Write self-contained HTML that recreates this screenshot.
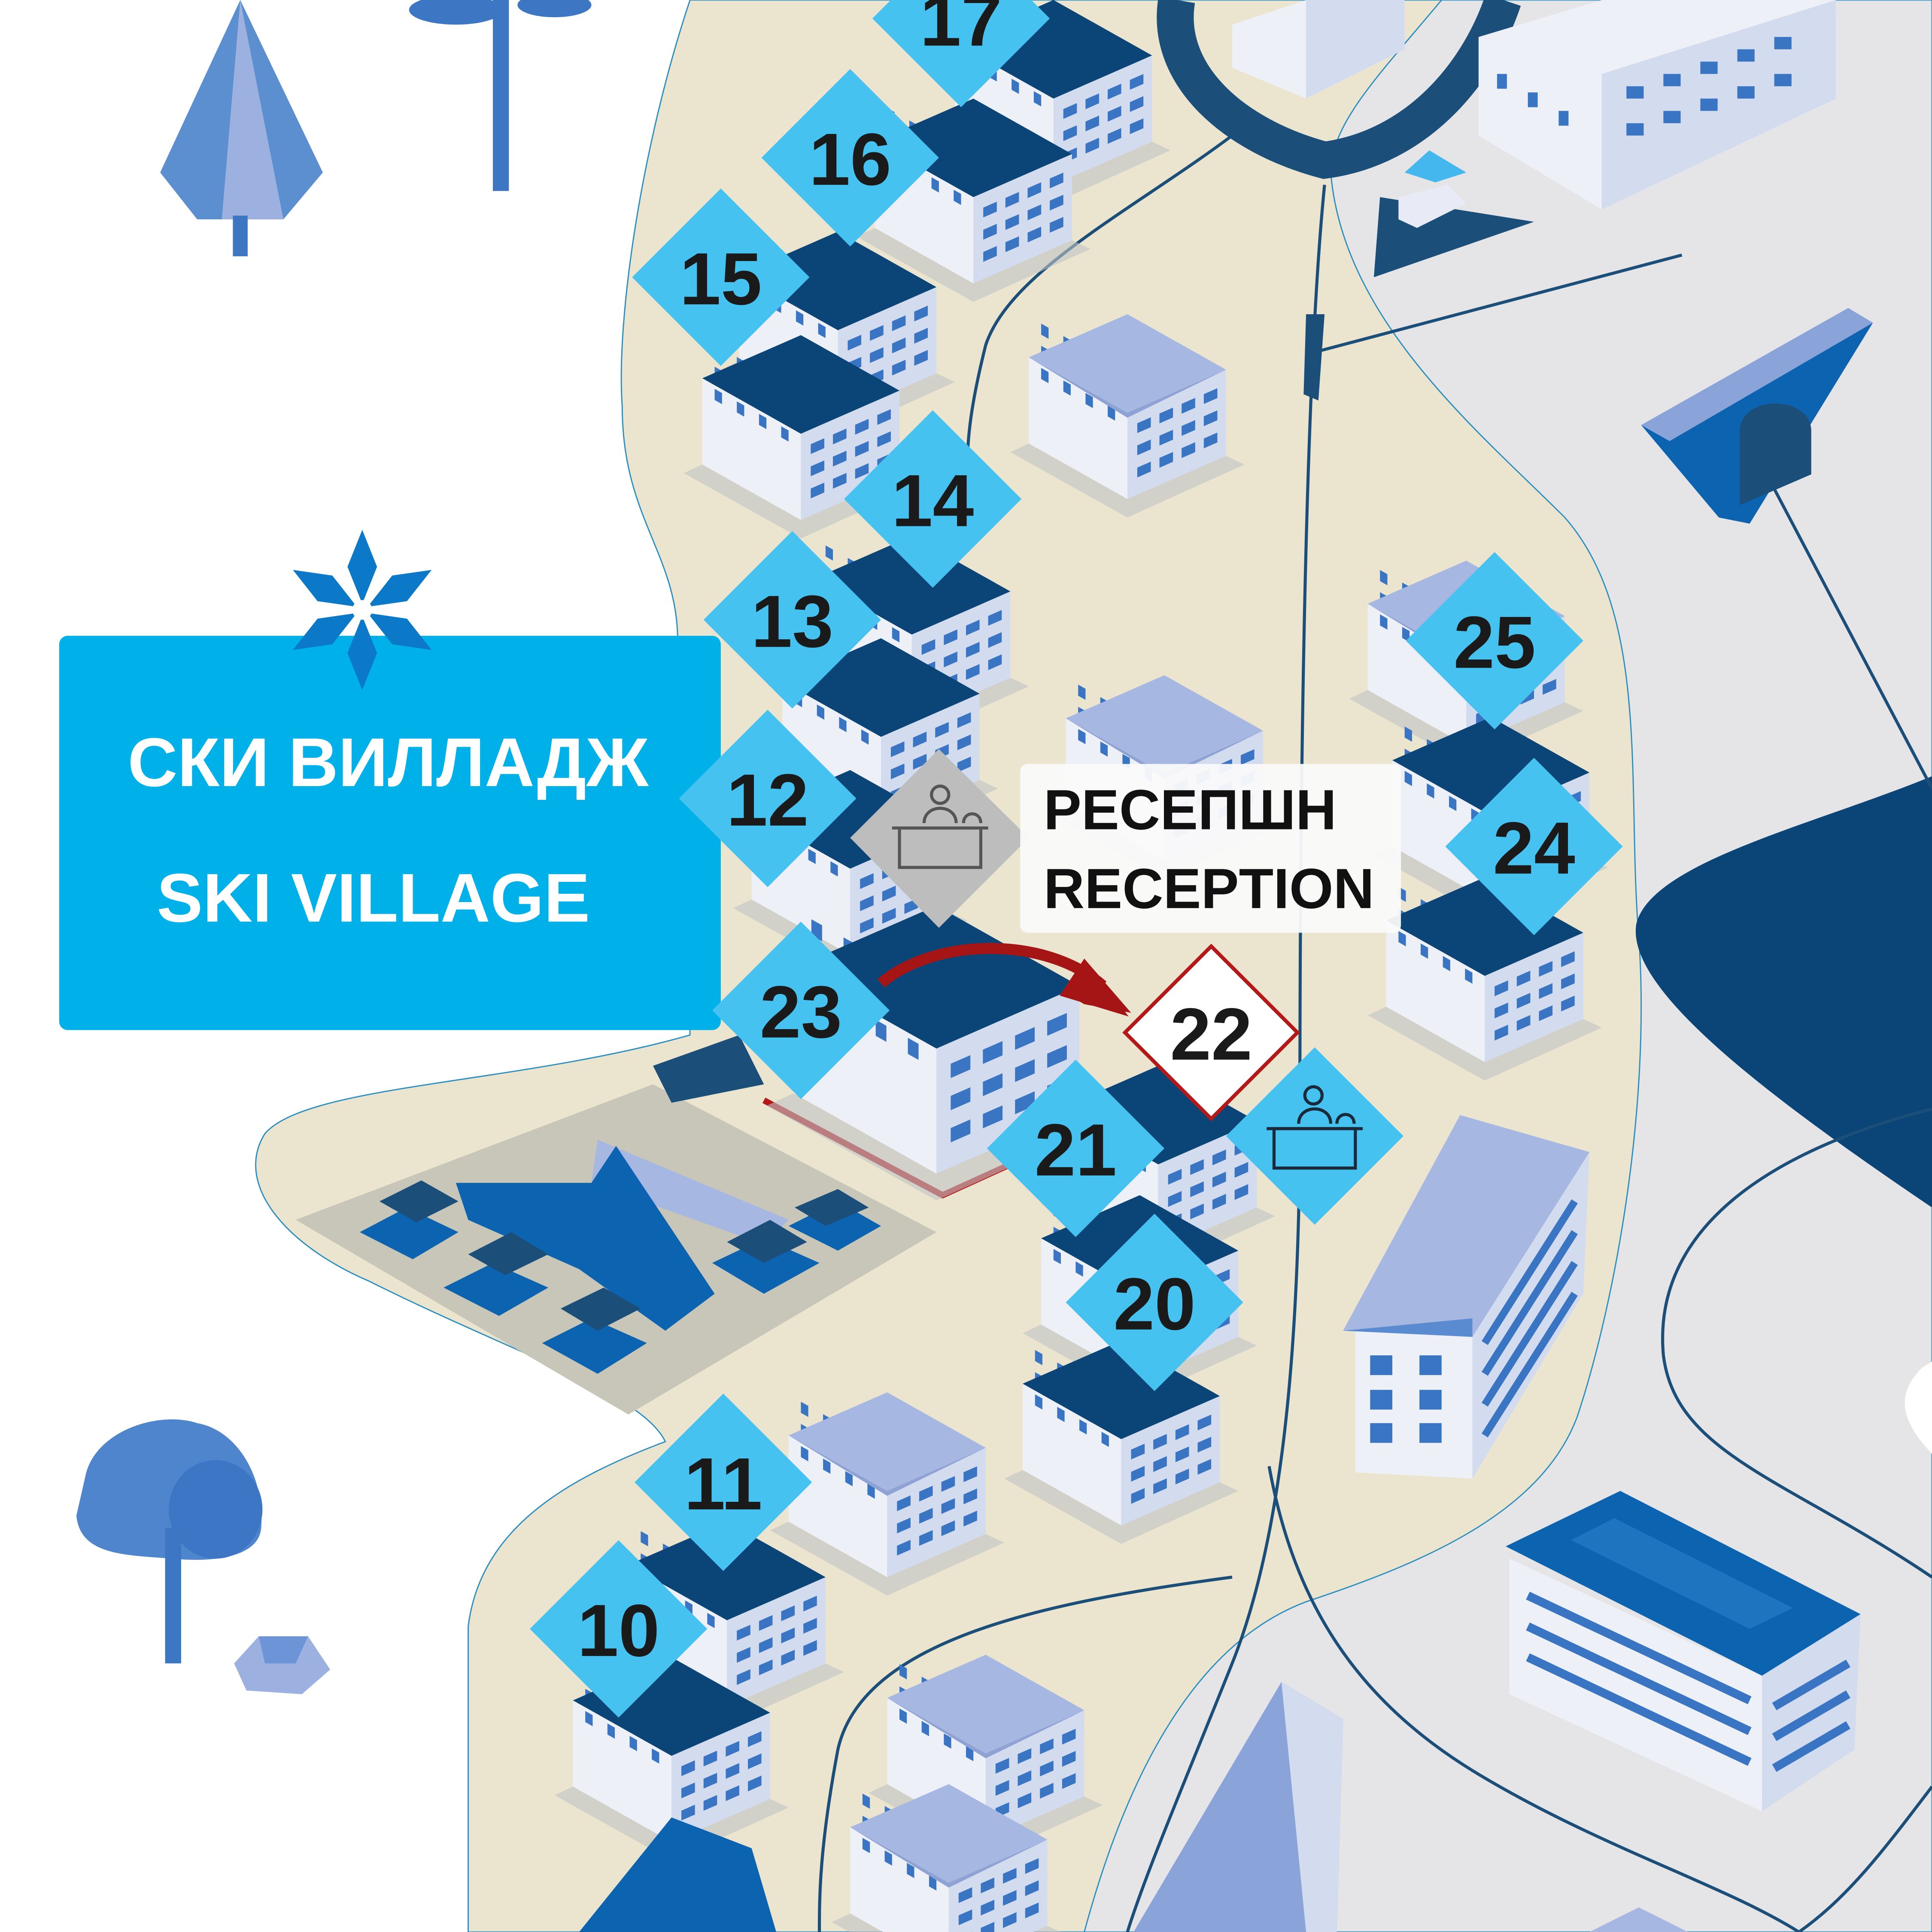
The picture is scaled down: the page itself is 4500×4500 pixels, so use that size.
<!DOCTYPE html>
<html><head><meta charset="utf-8">
<style>
html,body{margin:0;padding:0;background:#fff;}
svg{display:block;}
text{font-family:"Liberation Sans","DejaVu Sans",sans-serif;font-weight:bold;}
</style></head>
<body>
<svg width="4500" height="4500" viewBox="0 0 1568 1568" xmlns="http://www.w3.org/2000/svg">
<defs>
  <g id="walls">
    <polygon points="-80,35 0,80 0,150 -80,105" fill="#eef0f8"/>
    <polygon points="0,80 80,45 80,115 0,150" fill="#d3dbef"/>
    <polygon points="-80,105 0,150 80,115 95,122 0,165 -95,112" fill="#bfc3c7" opacity="0.6"/>
    <g transform="matrix(1,-0.4375,0,1,0,80)" fill="#3a75c4">
      <rect x="8" y="12" width="11" height="8"/><rect x="26" y="12" width="11" height="8"/><rect x="44" y="12" width="11" height="8"/><rect x="62" y="12" width="11" height="8"/>
      <rect x="8" y="30" width="11" height="8"/><rect x="26" y="30" width="11" height="8"/><rect x="44" y="30" width="11" height="8"/><rect x="62" y="30" width="11" height="8"/>
      <rect x="8" y="48" width="11" height="8"/><rect x="26" y="48" width="11" height="8"/><rect x="44" y="48" width="11" height="8"/><rect x="62" y="48" width="11" height="8"/>
    </g>
    <g transform="matrix(1,0.5625,0,1,0,80)" fill="#3a75c4">
      <rect x="-70" y="-33" width="6" height="9"/><rect x="-52" y="-33" width="6" height="9"/><rect x="-34" y="-33" width="6" height="9"/><rect x="-16" y="-33" width="6" height="9"/>
      <rect x="-70" y="-15" width="6" height="9"/><rect x="-52" y="-15" width="6" height="9"/><rect x="-34" y="-15" width="6" height="9"/><rect x="-16" y="-15" width="6" height="9"/>
      <rect x="-70" y="3" width="6" height="9"/><rect x="-52" y="3" width="6" height="9"/><rect x="-34" y="3" width="6" height="9"/><rect x="-16" y="3" width="6" height="9"/>
    </g>
  </g>
  <g id="bd"><use href="#walls"/><polygon points="-80,35 0,0 80,45 0,80" fill="#0b4476"/></g>
  <g id="bl"><use href="#walls"/><polygon points="-80,35 0,0 80,45 0,80" fill="#a6b7e2"/><polygon points="-80,35 0,80 80,45 0,84" fill="#8ea2d4"/></g>
  <g id="dia"><polygon points="0,-72 72,0 0,72 -72,0" fill="#45c2f0"/></g>
</defs>

<!-- background regions -->
<rect width="1568" height="1568" fill="#fff"/>
<path d="M560,0 C520,120 500,260 505,330 C505,420 550,450 550,520 L560,840 C420,880 250,880 215,920 C190,960 230,1010 300,1040 C420,1100 520,1130 540,1170 C460,1200 390,1240 380,1320 L380,1568 L1568,1568 L1568,0 Z" fill="#ebe5cf" stroke="#2a8fc0" stroke-width="1"/>
<path d="M1080,140 C1090,260 1200,350 1270,420 C1340,500 1320,640 1330,760 C1340,900 1310,1060 1280,1150 C1250,1230 1150,1270 1060,1300 C980,1330 920,1420 880,1568 L1568,1568 L1568,0 L1170,0 C1120,60 1080,100 1080,140 Z" fill="#e5e5e8" stroke="#2a8fc0" stroke-width="1"/>
<!-- navy blob right -->
<path d="M1568,630 C1470,670 1340,700 1328,750 C1320,800 1420,880 1568,980 Z" fill="#0b4476"/>
<path d="M1560,1110 C1540,1130 1540,1150 1568,1180 L1568,1105 Z" fill="#fff"/>

<!-- roads / thin lines -->
<g fill="none" stroke="#1b4e78" stroke-width="2.5">
<path d="M1075,150 C1060,300 1055,600 1055,900 C1055,1100 1040,1250 1000,1350 C960,1450 930,1520 915,1568"/>
<path d="M1000,110 C920,170 820,220 800,280 C790,320 785,350 785,380"/>
<path d="M1070,285 L1365,207"/>
<path d="M1438,393 L1568,640"/>
<path d="M1030,1190 C1050,1300 1100,1380 1200,1440 C1300,1500 1400,1530 1460,1568"/>
<path d="M1000,1280 C850,1300 700,1330 680,1420 C665,1500 665,1540 665,1568"/>
<path d="M1568,900 C1450,930 1340,990 1350,1100 C1360,1180 1450,1200 1568,1280"/>
<path d="M1568,1450 C1530,1500 1500,1540 1460,1568"/>
</g>
<polygon points="1060,255 1075,255 1070,325 1058,320" fill="#1b4e78"/>

<!-- top loop road -->
<path d="M955,0 C945,60 1000,110 1075,130 C1150,120 1200,60 1220,0" fill="none" stroke="#1b4e78" stroke-width="30"/>
<polygon points="1115,225 1120,160 1245,180" fill="#1b4e78"/>
<polygon points="1135,160 1175,150 1190,165 1150,185 1135,178" fill="#e8eaf5"/>
<polygon points="1140,140 1160,122 1190,140 1165,148" fill="#44b8ee"/>

<!-- top right buildings -->
<polygon points="1200,30 1300,0 1490,0 1490,80 1300,170 1200,110" fill="#eef0f8"/>
<polygon points="1300,60 1490,0 1490,80 1300,170" fill="#d3dbef"/>
<g fill="#3a75c4"><rect x="1320" y="70" width="14" height="10"/><rect x="1350" y="60" width="14" height="10"/><rect x="1380" y="50" width="14" height="10"/><rect x="1410" y="40" width="14" height="10"/><rect x="1440" y="30" width="14" height="10"/><rect x="1320" y="100" width="14" height="10"/><rect x="1350" y="90" width="14" height="10"/><rect x="1380" y="80" width="14" height="10"/><rect x="1410" y="70" width="14" height="10"/><rect x="1440" y="60" width="14" height="10"/><rect x="1215" y="60" width="8" height="12"/><rect x="1240" y="75" width="8" height="12"/><rect x="1265" y="90" width="8" height="12"/></g>
<polygon points="1000,20 1060,0 1140,0 1140,40 1060,80 1000,55" fill="#eef0f8"/>
<polygon points="1060,0 1140,0 1140,40 1060,80" fill="#d3dbef"/>

<!-- tunnel -->
<polygon points="1332,345 1500,250 1520,262 1420,425 1395,420" fill="#0c63b0"/>
<polygon points="1332,345 1500,250 1520,262 1355,358" fill="#8aa3d8"/>
<path d="M1412,410 L1412,350 C1412,320 1470,320 1470,350 L1470,385 Z" fill="#1b4e78"/>

<!-- trees -->
<polygon points="195,0 130,140 160,178 230,178 262,140" fill="#5b8fd0"/>
<polygon points="195,0 180,178 230,178" fill="#9cb1e0"/>
<rect x="189" y="175" width="12" height="33" fill="#3d77c4"/>
<rect x="400" y="0" width="13" height="155" fill="#3d77c4"/>
<ellipse cx="370" cy="8" rx="38" ry="12" fill="#3d77c4"/><ellipse cx="450" cy="4" rx="30" ry="10" fill="#3d77c4"/>
<path d="M70,1195 C80,1160 130,1145 160,1155 C190,1160 215,1195 212,1240 C210,1265 170,1268 140,1265 C100,1262 65,1262 62,1230 Z" fill="#4f85cc"/>
<ellipse cx="175" cy="1225" rx="38" ry="40" fill="#3c76c4"/>
<rect x="134" y="1240" width="13" height="110" fill="#3d77c4"/>
<polygon points="190,1350 210,1328 250,1328 268,1355 245,1375 200,1372" fill="#9cb1e0"/>
<polygon points="210,1328 250,1328 240,1350 215,1350" fill="#6d94d6"/>

<!-- sign -->
<rect x="48" y="516" width="537" height="320" rx="7" fill="#00b1e9"/>
<text x="315" y="638" font-size="56" fill="#fff" text-anchor="middle">СКИ ВИЛЛАДЖ</text>
<text x="303" y="748" font-size="56" fill="#fff" text-anchor="middle">SKI VILLAGE</text>
<!-- snowflake -->
<g transform="translate(294,495)" fill="#0b78c8">
  <g id="petal"><polygon points="0,-65 12,-35 0,-5 -12,-35"/></g>
  <use href="#petal" transform="rotate(60)"/><use href="#petal" transform="rotate(120)"/><use href="#petal" transform="rotate(180)"/><use href="#petal" transform="rotate(240)"/><use href="#petal" transform="rotate(300)"/>
  <circle r="8" fill="#fff"/>
</g>

<!-- parking area -->
<polygon points="240,990 530,880 760,1000 510,1148" fill="#c8c6b8"/>
<polygon points="530,865 600,840 620,880 545,895" fill="#1b4e78"/>
<polygon points="485,925 640,990 620,1010 480,960" fill="#a6b7e2"/>
<polygon points="370,960 480,960 500,930 580,1050 540,1080 470,1030 380,990" fill="#0c63b0"/>
<g fill="#0c63b0">
  <polygon points="292,1000 330,980 372,1000 335,1022"/>
  <polygon points="360,1045 400,1025 445,1045 405,1068"/>
  <polygon points="440,1090 480,1070 525,1090 485,1115"/>
  <polygon points="578,1025 620,1005 665,1025 620,1050"/>
  <polygon points="640,995 680,975 715,995 680,1015"/>
</g>
<g fill="#1b4e78">
  <polygon points="308,975 342,958 372,975 338,992"/>
  <polygon points="380,1018 415,1000 445,1018 410,1035"/>
  <polygon points="455,1062 490,1045 520,1062 485,1080"/>
  <polygon points="590,1008 625,990 655,1008 620,1025"/>
  <polygon points="645,980 680,965 705,980 670,995"/>
</g>

<!-- red outline plot -->
<path d="M620,893 L765,970 L820,945" fill="none" stroke="#b51818" stroke-width="5"/>

<!-- buildings -->
<use href="#bd" transform="translate(855,0)"/>
<use href="#bd" transform="translate(790,80)"/>
<use href="#bd" transform="translate(680,188)"/>
<use href="#bd" transform="translate(650,272)"/>
<use href="#bl" transform="translate(915,255)"/>
<use href="#bd" transform="translate(740,435)"/>
<use href="#bd" transform="translate(715,518)"/>
<use href="#bd" transform="translate(690,625)"/>
<use href="#bl" transform="translate(945,548)"/>
<use href="#bl" transform="translate(1190,455)"/>
<use href="#bd" transform="translate(1210,582)"/>
<use href="#bd" transform="translate(1205,712)"/>
<use href="#bd" transform="translate(760,735) scale(1.45)"/>
<use href="#bd" transform="translate(940,865)"/>
<use href="#bd" transform="translate(925,970)"/>
<use href="#bd" transform="translate(910,1088)"/>
<use href="#bl" transform="translate(720,1130)"/>
<use href="#bd" transform="translate(590,1235)"/>
<use href="#bd" transform="translate(545,1345)"/>
<use href="#bl" transform="translate(800,1343)"/>
<use href="#bl" transform="translate(770,1448)"/>

<!-- tall building right -->
<polygon points="1100,1080 1195,1080 1195,1200 1100,1195" fill="#eef0f8"/>
<polygon points="1195,1080 1290,935 1285,1050 1195,1200" fill="#d3dbef"/>
<polygon points="1090,1080 1185,905 1290,935 1195,1085" fill="#a6b7e2"/>
<polygon points="1090,1080 1195,1085 1195,1070" fill="#5a8bd0"/>
<g fill="#3a75c4"><rect x="1112" y="1100" width="18" height="16"/><rect x="1152" y="1100" width="18" height="16"/><rect x="1112" y="1128" width="18" height="16"/><rect x="1152" y="1128" width="18" height="16"/><rect x="1112" y="1155" width="18" height="16"/><rect x="1152" y="1155" width="18" height="16"/></g>
<g stroke="#3a75c4" stroke-width="6"><line x1="1205" y1="1115" x2="1278" y2="1000"/><line x1="1205" y1="1140" x2="1278" y2="1025"/><line x1="1205" y1="1165" x2="1278" y2="1050"/><line x1="1205" y1="1090" x2="1278" y2="975"/></g>

<!-- long building bottom right -->
<polygon points="1225,1265 1430,1360 1430,1470 1225,1375" fill="#eef0f8"/>
<polygon points="1430,1360 1510,1310 1505,1420 1430,1470" fill="#d3dbef"/>
<polygon points="1222,1255 1315,1210 1510,1310 1430,1360" fill="#0c63b0"/>
<polygon points="1275,1250 1310,1232 1455,1305 1420,1322" fill="#1f74c0"/>
<g stroke="#3a75c4" stroke-width="7"><line x1="1240" y1="1295" x2="1420" y2="1380"/><line x1="1240" y1="1320" x2="1420" y2="1405"/><line x1="1240" y1="1345" x2="1420" y2="1430"/><line x1="1440" y1="1385" x2="1500" y2="1350"/><line x1="1440" y1="1410" x2="1500" y2="1375"/><line x1="1440" y1="1435" x2="1500" y2="1400"/></g>

<!-- bottom buildings -->
<polygon points="920,1568 1040,1365 1090,1395 1085,1568" fill="#8aa3d8"/>
<polygon points="1040,1365 1090,1395 1085,1568 1060,1568" fill="#d3dbef"/>
<polygon points="470,1568 545,1475 610,1500 630,1568" fill="#0c63b0"/>
<polygon points="1290,1568 1330,1548 1370,1568" fill="#a6b7e2"/>

<!-- red arrow -->
<path d="M715,798 C760,760 850,760 895,800" fill="none" stroke="#a51515" stroke-width="9"/>
<polygon points="880,778 918,822 880,815 868,808" fill="#a51515"/>
<polygon points="880,778 916,825 860,808" fill="#a51515"/>

<!-- diamonds -->
<g font-size="60" fill="#1a1a1a" text-anchor="middle">
<use href="#dia" x="780" y="15"/><text x="780" y="37">17</text>
<use href="#dia" x="690" y="128"/><text x="690" y="150">16</text>
<use href="#dia" x="585" y="225"/><text x="585" y="247">15</text>
<use href="#dia" x="757" y="405"/><text x="757" y="427">14</text>
<use href="#dia" x="643" y="503"/><text x="643" y="525">13</text>
<use href="#dia" x="623" y="648"/><text x="623" y="670">12</text>
<use href="#dia" x="650" y="820"/><text x="650" y="842">23</text>
<use href="#dia" x="873" y="932"/><text x="873" y="954">21</text>
<use href="#dia" x="937" y="1057"/><text x="937" y="1079">20</text>
<use href="#dia" x="587" y="1203"/><text x="587" y="1225">11</text>
<use href="#dia" x="502" y="1322"/><text x="502" y="1344">10</text>
<use href="#dia" x="1213" y="520"/><text x="1213" y="542">25</text>
<use href="#dia" x="1245" y="687"/><text x="1245" y="709">24</text>
<polygon points="983,768 1053,838 983,908 913,838" fill="#fff" stroke="#b51818" stroke-width="3"/>
<text x="983" y="860">22</text>
</g>
<polygon points="762,608 835,680 762,753 690,680" fill="#bdbdbd"/>
<g fill="none" stroke="#555" stroke-width="2.5">
  <rect x="730" y="672" width="66" height="32"/><line x1="724" y1="672" x2="802" y2="672"/>
  <circle cx="763" cy="645" r="7"/><path d="M750,668 C750,652 776,652 776,668"/><path d="M782,668 C782,658 796,658 796,668"/>
</g>
<use href="#dia" x="1067" y="922"/>
<g fill="none" stroke="#1a2a3a" stroke-width="2.5">
  <rect x="1034" y="916" width="66" height="32"/><line x1="1028" y1="916" x2="1106" y2="916"/>
  <circle cx="1066" cy="889" r="7"/><path d="M1054,912 C1054,896 1080,896 1080,912"/><path d="M1085,912 C1085,902 1099,902 1099,912"/>
</g>

<!-- reception label -->
<rect x="828" y="620" width="309" height="137" rx="6" fill="#fafafa" opacity="0.95"/>
<text x="847" y="673" font-size="46" fill="#111">РЕСЕПШН</text>
<text x="847" y="737" font-size="46" fill="#111">RECEPTION</text>
</svg>
</body></html>
